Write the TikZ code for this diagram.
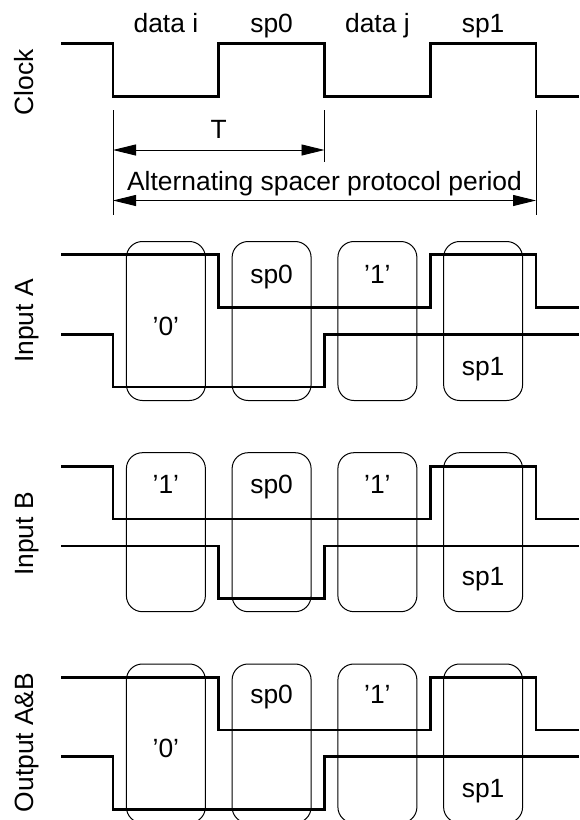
\documentclass[tikz,border=0pt]{standalone}
\usepackage{fontspec}
\setmainfont{Liberation Sans}
\usetikzlibrary{arrows.meta}

\begin{document}
\begin{tikzpicture}[
    x=0.5pt, y=-0.5pt,
    every node/.style={font=\fontsize{13.2}{15}\selectfont, inner sep=0pt},
    wave/.style={line width=1.3pt},
    slot/.style={draw, line width=0.5pt, rounded corners=8pt, minimum width=39.5pt, minimum height=79.5pt},
    tick/.style={line width=0.45pt},
    dim/.style={line width=0.45pt, {Triangle[length=11.5pt,width=5.5pt]}-{Triangle[length=11.5pt,width=5.5pt]}},
    signal/.style={rotate=90, anchor=base},
    phase/.style={anchor=base}
]
\useasboundingbox (0,0) rectangle (579,820);

% -------------------------
% Clock
% -------------------------
    \node[signal] (clk) at (33,82.5) {Clock};
    \draw[wave] (61,43.3) -| (113,96.7) -| (218.75,43.3) -| (324.5,96.7)
        -| (430.25,43.3) -| (536,96.7) -- (579,96.7);

    \node[phase] (ph0) at (165.9,32) {data i};
    \node[phase] (ph1) at (271.6,32) {sp0};
    \node[phase] (ph2) at (377.4,32) {data j};
    \node[phase] (ph3) at (483.1,32) {sp1};

% Period markers
    \coordinate (m0) at (113,110);
    \coordinate (m1) at (324.5,110);
    \coordinate (m2) at (536,110);
    \draw[tick] (m0) -- ++(0,105);
    \draw[tick] (m1) -- ++(0,52);
    \draw[tick] (m2) -- ++(0,105);

    \draw[dim] ([yshift=-20pt]m0) -- node[above=6pt, anchor=base] (T) {T} ([yshift=-20pt]m1);
    \draw[dim] ([yshift=-45.25pt]m0) -- node[above=5.25pt, anchor=base] (asp) {Alternating spacer protocol period} ([yshift=-45.25pt]m2);

% -------------------------
% Slots of each input/output
% -------------------------
    \foreach \r/\b in {a/241.5, b/452.7, c/664}{
        \foreach \x [count=\i from 0] in {165.9, 271.6, 377.4, 483.1}
            \node[slot] (\r\i) at (\x,{\b+79.5}) {};
    }

% Input A
    \node[signal] (inA) at (33,321) {Input A};
    \draw[wave] (61,254.5) -| (218.75,307.5) -| (430.25,254.5) -| (536,307.5) -- (579,307.5);
    \draw[wave] (61,334.5) -| (113,387) -| (324.5,334.5) -- (579,334.5);
    \node[phase] at (165.9,335) {'0'};
    \node[phase] at (271.6,283) {sp0};
    \node[phase] at (377.4,283) {'1'};
    \node[phase] at (483.1,375) {sp1};

% Input B
    \node[signal] (inB) at (33,534) {Input B};
    \draw[wave] (61,466.7) -| (113,519) -| (430.25,466.7) -| (536,519) -- (579,519);
    \draw[wave] (61,546) -| (218.75,598.3) -| (324.5,546) -- (579,546);
    \node[phase] at (165.9,493) {'1'};
    \node[phase] at (271.6,493) {sp0};
    \node[phase] at (377.4,493) {'1'};
    \node[phase] at (483.1,585) {sp1};

% Output A&B
    \node[signal] (out) at (33,742.5) {Output A\&B};
    \draw[wave] (61,677.7) -| (218.75,730) -| (430.25,677.7) -| (536,730) -- (579,730);
    \draw[wave] (61,756.7) -| (113,809.3) -| (324.5,756.7) -- (579,756.7);
    \node[phase] at (165.9,757) {'0'};
    \node[phase] at (271.6,703) {sp0};
    \node[phase] at (377.4,703) {'1'};
    \node[phase] at (483.1,797) {sp1};
\end{tikzpicture}
\end{document}
